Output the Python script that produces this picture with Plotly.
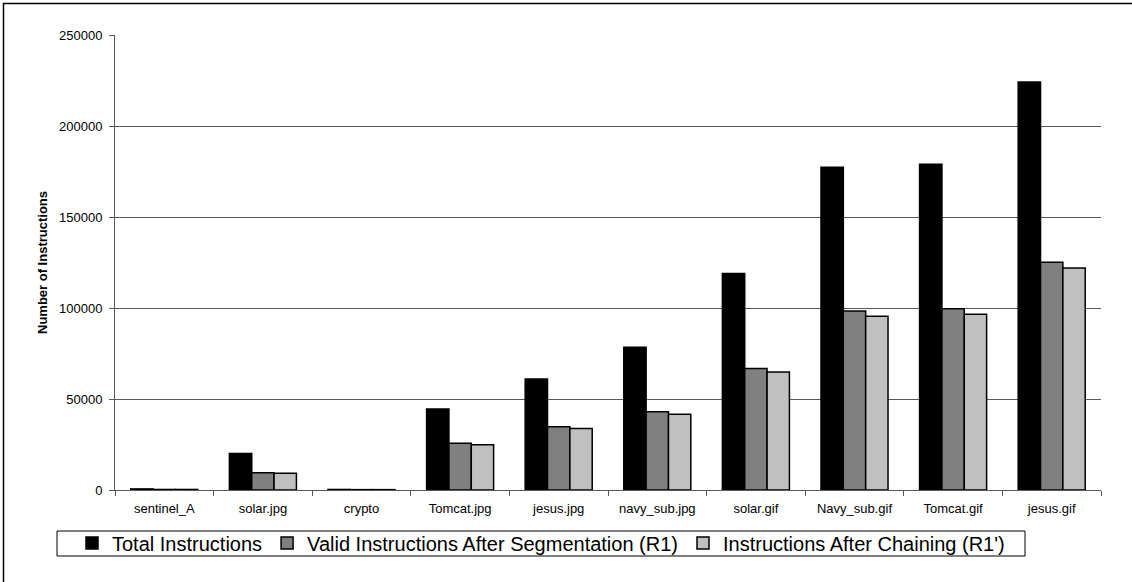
import plotly.graph_objects as go

categories = ["sentinel_A", "solar.jpg", "crypto", "Tomcat.jpg", "jesus.jpg",
              "navy_sub.jpg", "solar.gif", "Navy_sub.gif", "Tomcat.gif", "jesus.gif"]
total = [600, 20000, 300, 44500, 61000, 78500, 119000, 177300, 179000, 224200]
valid = [300, 9500, 200, 25700, 34800, 43000, 66800, 98400, 99600, 125100]
chained = [300, 9200, 200, 24900, 33800, 41600, 64800, 95400, 96500, 122000]
series_names = ["Total Instructions", "Valid Instructions After Segmentation (R1)",
                "Instructions After Chaining (R1')"]
series_colors = ["#000000", "#808080", "#C0C0C0"]
y_ticks = [0, 50000, 100000, 150000, 200000, 250000]

W, H = 1132, 582
L, R, T, B = 115, 31, 35, 92
pw, ph = W - L - R, H - T - B

fig = go.Figure()
for name, vals, col in zip(series_names, [total, valid, chained], series_colors):
    fig.add_trace(go.Bar(
        x=categories, y=vals, name=name,
        marker=dict(color=col, line=dict(color="#000000", width=1.5)),
    ))

def px_x(x):
    return (x - L) / pw

def px_y(y):
    return (H - B - y) / ph

FONT = "Arial, Liberation Sans, sans-serif"

fig.update_layout(
    width=W, height=H,
    margin=dict(l=L, r=R, t=T, b=B, pad=0),
    paper_bgcolor="white", plot_bgcolor="white",
    barmode="group", bargap=0.32, bargroupgap=0,
    font=dict(family=FONT, color="#000000", size=13),
    showlegend=True,
    legend=dict(
        orientation="h", x=px_x(541), xanchor="center", y=px_y(543), yanchor="middle",
        font=dict(size=20, family=FONT),
        borderwidth=0, bgcolor="rgba(0,0,0,0)",
        itemwidth=30, tracegroupgap=0,
    ),
    xaxis=dict(
        type="category", showline=True, linecolor="#595959", linewidth=1,
        ticks="outside", tickson="boundaries", ticklen=5, tickcolor="#595959",
        tickfont=dict(size=13), showgrid=False, zeroline=False,
        ticklabelstandoff=6,
    ),
    yaxis=dict(
        range=[0, 250000], tickvals=y_ticks, ticktext=[str(v) for v in y_ticks],
        showline=True, linecolor="#595959", linewidth=1,
        ticks="outside", ticklen=5, tickcolor="#595959",
        showgrid=True, gridcolor="#595959", gridwidth=1, zeroline=False,
        tickfont=dict(size=13), ticklabelstandoff=4,
        title=dict(text="<b>Number of Instructions</b>", font=dict(size=13), standoff=8),
    ),
    shapes=[
        dict(type="rect", xref="paper", yref="paper",
             x0=px_x(3.5), x1=px_x(W + 5), y0=px_y(H + 5), y1=px_y(3.5),
             line=dict(color="#000000", width=1.5), fillcolor="rgba(0,0,0,0)", layer="below"),
        dict(type="rect", xref="paper", yref="paper",
             x0=px_x(57), x1=px_x(1025), y0=px_y(556), y1=px_y(531),
             line=dict(color="#000000", width=1), fillcolor="rgba(0,0,0,0)", layer="below"),
    ],
)

fig.write_html("out.html")
